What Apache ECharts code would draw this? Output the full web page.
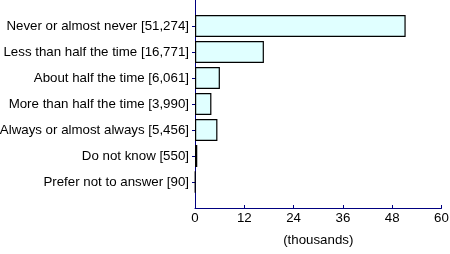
<!DOCTYPE html>
<html><head><meta charset="utf-8">
<script src="https://cdn.jsdelivr.net/npm/echarts@6/dist/echarts.min.js"></script>
<style>html,body{margin:0;padding:0;background:#fff}#c{width:450px;height:254px}</style>
</head><body><div id="c"></div>
<script>
const categories = ["Never or almost never [51,274]","Less than half the time [16,771]","About half the time [6,061]","More than half the time [3,990]","Always or almost always [5,456]","Do not know [550]","Prefer not to answer [90]"];
const values = [51.274, 16.771, 6.061, 3.990, 5.456, 0.550, 0.090];
const xTicks = [0, 12, 24, 36, 48, 60];

const cats = [''].concat(categories, ['']);
const vals = [null].concat(values, [null]);
const chart = echarts.init(document.getElementById('c'), null, {renderer:'canvas'});
const font = 'Liberation Sans, Arial, sans-serif';
const fs = 13.3;
chart.setOption({
  animation:false,
  grid:{left:195, right:8.5, top:0, height:208, containLabel:false, outerBoundsMode:'none'},
  xAxis:{type:'value', min:xTicks[0], max:xTicks[xTicks.length-1], interval:12,
    name:'(thousands)', nameLocation:'middle', nameGap:26,
    nameTextStyle:{color:'#000', fontSize:fs, fontFamily:font},
    axisLine:{show:true, lineStyle:{color:'#000080', width:1}},
    axisTick:{show:true, inside:true, length:3, lineStyle:{color:'#000080'}},
    axisLabel:{color:'#000', fontSize:fs, fontFamily:font, margin:4},
    splitLine:{show:false}},
  yAxis:{type:'category', data:cats, inverse:true, boundaryGap:false,
    axisLine:{show:true, lineStyle:{color:'#000080', width:1}},
    axisTick:{show:true, length:3, interval:function(i){return i>0 && i<cats.length-1;}, lineStyle:{color:'#000080'}},
    axisLabel:{color:'#000', fontSize:fs, fontFamily:font, margin:6, interval:0},
    splitLine:{show:false}},
  series:[{type:'bar', data:vals, barWidth:22,
    itemStyle:{color:'#e0ffff', borderColor:'#000', borderWidth:1.2}}]
});
</script></body></html>
